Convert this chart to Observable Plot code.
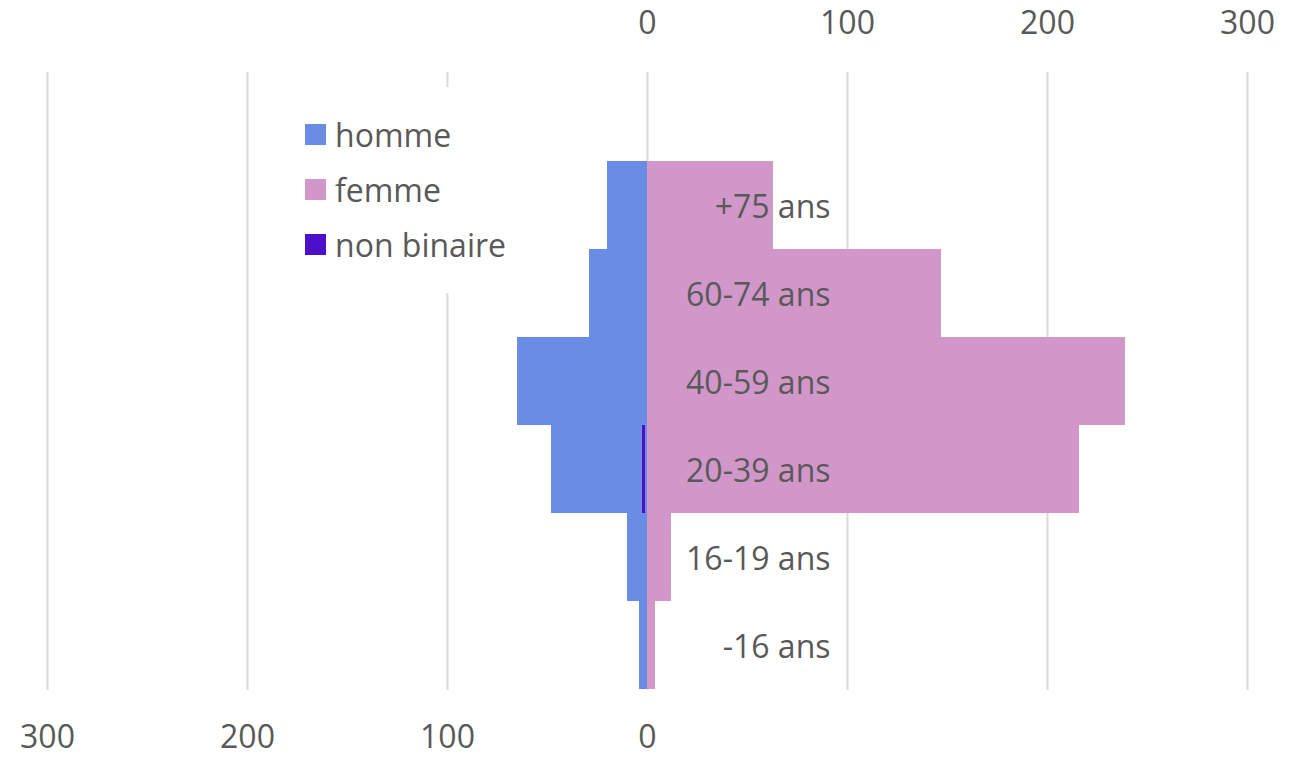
<!DOCTYPE html>
<html>
<head>
<meta charset="utf-8">
<script src="https://cdn.jsdelivr.net/npm/d3@7"></script>
<script src="https://cdn.jsdelivr.net/npm/@observablehq/plot@0.6"></script>
<style>
  html, body { margin: 0; padding: 0; background: #fff; }
  #wrap { position: relative; width: 1297px; height: 757px; }
  #legend {
    position: absolute; left: 296px; top: 87px; width: 226px; height: 206px;
    background: #fff; font-family: "Open Sans", sans-serif; font-size: 32px; color: #595959;
    box-sizing: border-box; padding-top: 20px;
  }
  .item { display: flex; align-items: center; height: 55px; }
  .sw { width: 21px; height: 21px; margin-left: 9px; margin-right: 9px; }
</style>
</head>
<body>
<div id="wrap"></div>
<script>
const ages = ["+75 ans", "60-74 ans", "40-59 ans", "20-39 ans", "16-19 ans", "-16 ans"];
const homme = [20, 29, 65, 48, 10, 4];
const femme = [63, 147, 239, 216, 12, 4];
const nonBinaire = [0, 0, 0, 2, 0, 0];
const seriesNames = ["homme", "femme", "non binaire"];
const seriesColors = ["#6a8de3", "#d197c9", "#4b10c8"];
const topTicks = [0, 100, 200, 300];
const bottomTicks = [-300, -200, -100, 0];
const gridTicks = [-300, -200, -100, 0, 100, 200, 300];

const rows = ages.map((a, i) => ({age: a, homme: homme[i], femme: femme[i], nb: nonBinaire[i]}));

const chart = Plot.plot({
  width: 1297,
  height: 757,
  marginLeft: 47,
  marginRight: 50,
  marginTop: 72,
  marginBottom: 67,
  style: {fontFamily: "'Open Sans', sans-serif", fontSize: "32px", color: "#595959", background: "#fff"},
  x: {domain: [-300, 300], label: null},
  y: {domain: [" ", ...ages], padding: 0, axis: null},
  marks: [
    Plot.gridX(gridTicks, {stroke: "#d9d9d9", strokeOpacity: 1, strokeWidth: 2}),
    Plot.barX(rows, {y: "age", x1: 0, x2: d => -d.homme, fill: seriesColors[0], inset: 0}),
    Plot.barX(rows, {y: "age", x1: 0, x2: "femme", fill: seriesColors[1], inset: 0}),
    Plot.tickX(rows.filter(d => d.nb > 0), {y: "age", x: d => -d.nb, stroke: seriesColors[2], strokeWidth: 3, strokeOpacity: 1}),
    Plot.text(rows, {y: "age", x: () => 0, text: "age", textAnchor: "end", dx: 183, dy: 2, fill: "#595959", fontSize: 32}),
    Plot.axisX(topTicks, {anchor: "top", tickSize: 0, tickPadding: 39, fontSize: 32, label: null}),
    Plot.axisX(bottomTicks, {anchor: "bottom", tickSize: 0, tickPadding: 35, fontSize: 32, label: null, tickFormat: d => String(Math.abs(d))})
  ]
});

const wrap = document.getElementById("wrap");
wrap.appendChild(chart);

const legend = document.createElement("div");
legend.id = "legend";
seriesNames.forEach((name, i) => {
  const item = document.createElement("div");
  item.className = "item";
  const sw = document.createElement("span");
  sw.className = "sw";
  sw.style.background = seriesColors[i];
  const t = document.createElement("span");
  t.textContent = name;
  item.appendChild(sw);
  item.appendChild(t);
  legend.appendChild(item);
});
wrap.appendChild(legend);
</script>
</body>
</html>
